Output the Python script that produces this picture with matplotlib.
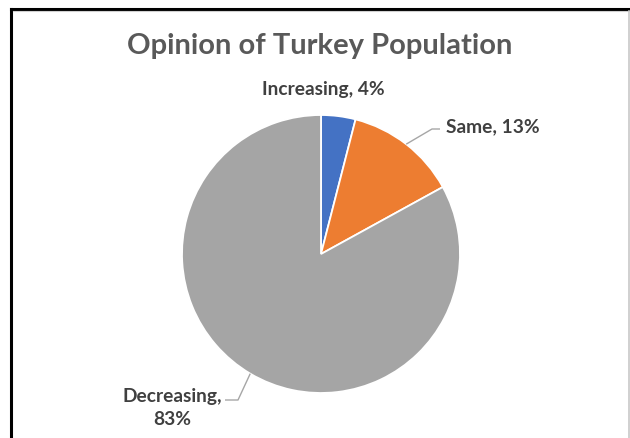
import numpy as np
import matplotlib.pyplot as plt
from matplotlib.lines import Line2D

# opinion shares, clockwise from 12 o'clock
categories = ["Increasing", "Same", "Decreasing"]
shares = [4, 13, 83]
colors = ["#4472C4", "#ED7D31", "#A5A5A5"]

W, H = 630, 438
plt.rcParams["font.family"] = ["Lato", "DejaVu Sans"]

fig = plt.figure(figsize=(W / 100, H / 100), dpi=100)
fig.patch.set_facecolor("white")

# pie centre and radius in pixels
cx, cy, r = 321, 254, 139
ax = fig.add_axes([(cx - r) / W, (H - cy - r) / H, 2 * r / W, 2 * r / H])
ax.pie(shares, colors=colors, startangle=90, counterclock=False, radius=1,
       wedgeprops=dict(edgecolor="white", linewidth=1.3))
ax.set_xlim(-1, 1)
ax.set_ylim(-1, 1)
ax.set_aspect("equal")
ax.axis("off")


def px(x, y):
    # pixel coords (origin top-left) -> pie data coords
    return (x - cx) / r, (cy - y) / r


def mid_point(i):
    start = sum(shares[:i]) / sum(shares) * 360
    mid = start + shares[i] / sum(shares) * 180
    a = np.deg2rad(mid)
    return np.sin(a), np.cos(a)


label_style = dict(fontsize=13.8, fontweight="bold", color="#404040")
lead = dict(color="#A6A6A6", lw=1.0, solid_capstyle="butt")

# Increasing
ax.text(*px(323, 90), f"{categories[0]}, {shares[0]}%", ha="center", va="center",
        clip_on=False, **label_style)

# Same
x0, y0 = mid_point(1)
xa, ya = px(432, 129)
xb, yb = px(440, 129)
ax.add_line(Line2D([x0, xa, xb], [y0, ya, yb], clip_on=False, **lead))
ax.text(*px(446, 127), f"{categories[1]}, {shares[1]}%", ha="left", va="center",
        clip_on=False, **label_style)

# Decreasing
x0, y0 = mid_point(2)
xa, ya = px(238, 400)
xb, yb = px(225, 400)
ax.add_line(Line2D([x0, xa, xb], [y0, ya, yb], clip_on=False, **lead))
ax.text(*px(172, 408), f"{categories[2]},\n{shares[2]}%", ha="center", va="center",
        linespacing=1.45, clip_on=False, **label_style)

fig.text(320 / W, 1 - 46 / H, "Opinion of Turkey Population", ha="center", va="center",
         fontsize=21, fontweight="bold", color="#595959")

# frame: black top/left, light grey right
fig.add_artist(Line2D([11 / W, 1], [1 - 9 / H, 1 - 9 / H], color="black", lw=2.2))
fig.add_artist(Line2D([11 / W, 11 / W], [0, 1 - 9 / H], color="black", lw=2.2))
fig.add_artist(Line2D([13 / W, 1], [1 - 11 / H, 1 - 11 / H], color="#D0D0D0", lw=0.8))
fig.add_artist(Line2D([629 / W, 629 / W], [0, 1 - 11 / H], color="#C8C8C8", lw=1.2))

fig.savefig("out.png", dpi=100, facecolor="white")
